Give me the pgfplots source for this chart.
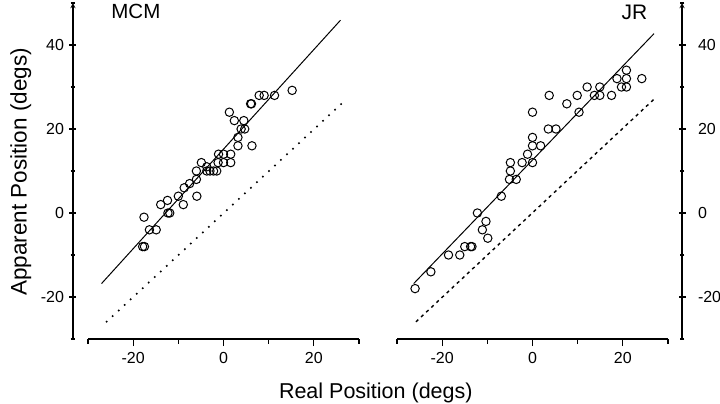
\documentclass[border=0pt]{standalone}
\usepackage{fontspec}
\setmainfont{Liberation Sans}
\usepackage{pgfplots}
\usepackage{pgfplotstable}
\pgfplotsset{compat=1.18}

\pgfplotstableread{
x y
-17.9 -8
-17.5 -8
-17.6 -1
-16.4 -4
-14.9 -4
-13.9 2
-12.4 3
-12.3 0
-11.9 0
-10 4
-8.9 2
-8.7 6
-7.5 7
-6 8
-5.9 4
-6 10
-4.9 12
-3.7 11
-3.7 10
-3 10
-2.2 10
-1.5 10
-1.2 12
-1.1 14
0 12
0 14
1.6 12
1.6 14
3.2 16
6.3 16
3.2 18
3.9 20
4.7 20
2.4 22
4.5 22
1.3 24
6 26
6.2 26
7.9 28
9 28
11.3 28
15.2 29.2
}\mcm

\pgfplotstableread{
x y
-26 -18
-22.5 -14
-18.6 -10
-16.1 -10
-15 -8
-13.7 -8
-13.4 -8
-12.2 0
-11.1 -4
-10.3 -2
-9.9 -6
-6.9 4
-5.1 8
-3.6 8
-4.9 10
-4.9 12
-2.3 12
0 12
-1.1 14
0 16
1.8 16
0 18
3.5 20
5.2 20
0 24
3.7 28
7.6 26
10.3 24
9.9 28
12.1 30
13.7 28
14.9 28
14.9 30
17.5 28
18.7 32
19.7 30
20.8 30
20.8 32
20.8 34
24.2 32
}\jr

\pgfplotsset{
  panel/.style={
    scale only axis, width=271bp, height=336bp,
    xmin=-30, xmax=30, ymin=-30, ymax=50,
    axis x line=bottom,
    axis line style={-, line width=1.3bp},
    xtick={-20,0,20}, xticklabels={-20,0,20},
    minor xtick={-30,-10,10,30},
    ytick={-20,0,20,40}, yticklabels={-20,0,20,40},
    minor ytick={-30,-10,10,30,50},
    tick align=outside,
    major tick length=7bp, minor tick length=4.5bp,
    every tick/.style={black, line width=1.2bp},
    tick label style={font=\fontsize{16bp}{19bp}\selectfont},
    xticklabel shift=3bp,
    clip=false,
  },
  pts/.style={only marks, mark=o, mark size=4.2bp, mark options={line width=1bp, black}},
}

\begin{document}
\begin{tikzpicture}
\path[use as bounding box] (0,0) rectangle (720bp,404bp);

\begin{axis}[panel, at={(88bp,65bp)}, anchor=south west,
  axis y line=left, axis y line shift=15bp, yticklabel shift=2bp]
  \addplot[black, line width=1bp] coordinates {(-27,-16.8) (25.9,45.9)};
  \addplot[black, line width=1.6bp, dash pattern=on 1.6bp off 6.6bp] coordinates {(-26,-26) (26.2,26.1)};
  \addplot[pts] table[x=x,y=y] {\mcm};
\end{axis}

\begin{axis}[panel, at={(397bp,65bp)}, anchor=south west,
  axis y line=right, axis y line shift=14bp, yticklabel shift=9bp]
  \addplot[black, line width=1bp] coordinates {(-26.3,-16.8) (26.9,42.7)};
  \addplot[black, line width=1.4bp, dash pattern=on 3.2bp off 3.8bp] coordinates {(-25.8,-25.9) (27,27.2)};
  \addplot[pts] table[x=x,y=y] {\jr};
\end{axis}

\node[anchor=base west, inner sep=0pt, font=\fontsize{20.5bp}{24bp}\selectfont] at (111.2bp,385bp) {MCM};
\node[anchor=base east, inner sep=0pt, font=\fontsize{21bp}{24bp}\selectfont] at (647.5bp,384bp) {JR};
\node[anchor=base, inner sep=0pt, rotate=90, font=\fontsize{22.5bp}{26bp}\selectfont] at (26.5bp,232bp) {Apparent Position (degs)};
\node[anchor=base, inner sep=0pt, font=\fontsize{21.5bp}{26bp}\selectfont] at (375.8bp,6bp) {Real Position (degs)};
\end{tikzpicture}
\end{document}
